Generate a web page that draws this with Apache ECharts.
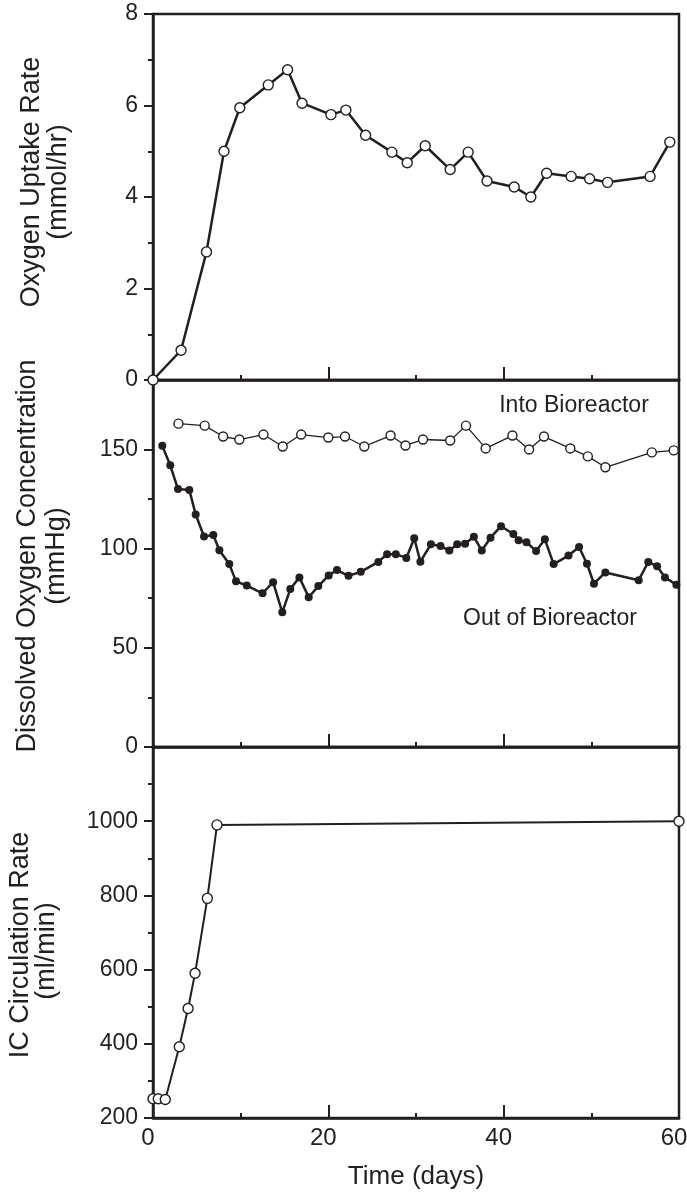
<!DOCTYPE html>
<html>
<head>
<meta charset="utf-8">
<script src="https://cdn.jsdelivr.net/npm/echarts@6/dist/echarts.min.js"></script>
<style>
  html, body { margin: 0; padding: 0; background: #fff; }
  #chart { width: 687px; height: 1196px; }
</style>
</head>
<body>
<div id="chart"></div>
<script>
// top panel: oxygen uptake rate (mmol/hr)
const uptakeDays = [0, 3.2, 6.1, 8.1, 9.9, 13.15, 15.35, 17.0, 20.3, 22.0, 24.25, 27.25, 29.0,
  31.05, 33.9, 35.95, 38.1, 41.2, 43.1, 44.9, 47.7, 49.8, 51.85, 56.7, 58.95];
const uptakeRate = [0, 0.65, 2.8, 5.0, 5.95, 6.45, 6.78, 6.05, 5.8, 5.9, 5.35, 4.98, 4.75,
  5.12, 4.6, 4.98, 4.35, 4.22, 4.0, 4.52, 4.45, 4.4, 4.32, 4.45, 5.2];

// middle panel: dissolved oxygen (mmHg)
const intoDays = [2.9, 5.9, 8.0, 9.85, 12.6, 14.8, 16.9, 20.0, 21.9, 24.1, 27.1, 28.8, 30.8,
  33.9, 35.7, 37.95, 41.0, 42.9, 44.6, 47.6, 49.6, 51.6, 56.9, 59.4];
const intoO2 = [163, 162, 156.5, 155, 157.5, 151.5, 157.5, 156, 156.5, 151.5, 157, 152, 155,
  154.5, 162, 150.5, 157, 150, 156.5, 150.5, 146.5, 141, 148.5, 149.5];

const outDays = [1.06, 1.97, 2.85, 4.14, 4.87, 5.82, 6.88, 7.57, 8.7, 9.47, 10.7, 12.5, 13.7,
  14.75, 15.66, 16.7, 17.76, 18.86, 20.04, 20.99, 22.3, 23.7, 25.7, 26.7, 27.7, 28.9, 29.8,
  30.5, 31.7, 32.8, 33.8, 34.7, 35.6, 36.6, 37.5, 38.5, 39.7, 41.1, 41.7, 42.6, 43.7, 44.7,
  45.7, 47.4, 48.6, 49.5, 50.3, 51.6, 55.4, 56.5, 57.5, 58.4, 59.7];
const outO2 = [151.8, 142, 130, 129.6, 117.2, 106.1, 106.9, 99.2, 92.2, 83.5, 81.4, 77.5, 83.1,
  67.9, 79.6, 85.5, 75.5, 81.1, 86.5, 89.2, 86.3, 88.3, 93.3, 97.2, 97.2, 95.3, 105.2,
  93.4, 102.2, 101.3, 99, 102.2, 102.5, 106, 99, 105.5, 111.3, 107.4, 104.2, 103.2, 98.8, 104.7,
  92.2, 96.5, 100.8, 92.4, 82.3, 88, 84.1, 93.3, 91.1, 85.5, 81.8];

// bottom panel: IC circulation rate (ml/min)
const circDays = [0, 0.6, 1.4, 3.0, 4.0, 4.8, 6.2, 7.3, 60];
const circRate = [252, 252, 250, 392, 495, 590, 792, 990, 1000];

const dayTicks = [0, 20, 40, 60];
const uptakeTicks = [0, 2, 4, 6, 8];
const o2Ticks = [0, 50, 100, 150];
const o2MinorTicks = [25, 75, 125];
const circTicks = [200, 400, 600, 800, 1000];

const INK = "#231f20";
const FONT = "'Liberation Sans', Arial, Helvetica, sans-serif";

const zip = (xs, ys) => xs.map((x, i) => [x, ys[i]]);

const grids = [
  { left: 153, right: 8, top: 14, height: 366 },
  { left: 153, right: 8, top: 380, height: 367 },
  { left: 153, right: 8, top: 747, height: 371 },
].map((g) => ({
  ...g,
  show: true,
  outerBoundsMode: "none",
  containLabel: false,
  borderColor: INK,
  borderWidth: 2.5,
  backgroundColor: "transparent",
}));

function xAxisFor(gridIndex) {
  const isBottom = gridIndex === 2;
  return {
    type: "value",
    gridIndex,
    min: 0,
    max: 60,
    interval: 20,
    axisLine: { lineStyle: { color: INK, width: 2.5 } },
    axisTick: { inside: true, length: 13, lineStyle: { color: INK, width: 2 } },
    minorTick: { show: true, splitNumber: 2, length: 5, lineStyle: { color: INK, width: 2 } },
    splitLine: { show: false },
    axisLabel: {
      show: isBottom,
      customValues: dayTicks,
      color: INK,
      fontSize: 24,
      fontFamily: FONT,
      margin: 8,
      padding: [0, 10, 0, 0],
      hideOverlap: false,
    },
    name: isBottom ? "Time (days)" : "",
    nameLocation: "middle",
    nameGap: 46,
    nameTextStyle: { color: INK, fontSize: 26, fontFamily: FONT },
  };
}

function yAxisBase(gridIndex, min, max) {
  return {
    type: "value",
    gridIndex,
    position: "left",
    min,
    max,
    axisLine: { show: true, lineStyle: { color: INK, width: 2.5 } },
    axisTick: { show: true, length: 9, lineStyle: { color: INK, width: 2 } },
    splitLine: { show: false },
    axisLabel: {
      color: INK,
      fontSize: 23,
      fontFamily: FONT,
      margin: 15,
      formatter: (v) => String(v),
    },
  };
}

const yAxes = [
  {
    ...yAxisBase(0, 0, 8),
    interval: 2,
    minorTick: { show: true, splitNumber: 2, length: 5, lineStyle: { color: INK, width: 2 } },
    axisLabel: { ...yAxisBase(0, 0, 8).axisLabel, customValues: uptakeTicks },
  },
  {
    ...yAxisBase(1, 0, 185),
    axisTick: { show: true, length: 9, customValues: o2Ticks, lineStyle: { color: INK, width: 2 } },
    axisLabel: { ...yAxisBase(1, 0, 185).axisLabel, customValues: o2Ticks },
  },
  {
    ...yAxisBase(1, 0, 185),
    axisLine: { show: false },
    axisTick: { show: true, length: 5, customValues: o2MinorTicks, lineStyle: { color: INK, width: 2 } },
    axisLabel: { show: false },
  },
  {
    ...yAxisBase(2, 200, 1200),
    interval: 200,
    minorTick: { show: true, splitNumber: 2, length: 5, lineStyle: { color: INK, width: 2 } },
    axisLabel: { ...yAxisBase(2, 200, 1200).axisLabel, customValues: circTicks },
  },
];

function openSeries(data, xAxisIndex, yAxisIndex, size, lineWidth) {
  return {
    type: "line",
    data,
    xAxisIndex,
    yAxisIndex,
    clip: false,
    symbol: "circle",
    symbolSize: size,
    lineStyle: { color: INK, width: lineWidth },
    itemStyle: { color: "#fff", borderColor: INK, borderWidth: 1.4 },
    emphasis: { disabled: true },
    z: 5,
  };
}

const series = [
  openSeries(zip(uptakeDays, uptakeRate), 0, 0, 10, 2.5),
  openSeries(zip(intoDays, intoO2), 1, 1, 9, 1.3),
  {
    type: "line",
    data: zip(outDays, outO2),
    xAxisIndex: 1,
    yAxisIndex: 1,
    clip: false,
    symbol: "circle",
    symbolSize: 8,
    lineStyle: { color: INK, width: 2.5 },
    itemStyle: { color: INK, borderColor: INK, borderWidth: 0 },
    emphasis: { disabled: true },
    z: 5,
  },
  openSeries(zip(circDays, circRate), 2, 3, 10, 2),
];

function vText(text, x, y) {
  return {
    type: "text",
    x,
    y,
    rotation: Math.PI / 2,
    style: { text, fill: INK, fontSize: 27, fontFamily: FONT, align: "center", verticalAlign: "middle" },
  };
}

function hText(text, x, y) {
  return {
    type: "text",
    x,
    y,
    style: { text, fill: INK, fontSize: 23, fontFamily: FONT, align: "center", verticalAlign: "middle" },
  };
}

const chart = echarts.init(document.getElementById("chart"), null, { renderer: "canvas" });
chart.setOption({
  animation: false,
  backgroundColor: "#fff",
  textStyle: { fontFamily: FONT },
  grid: grids,
  xAxis: [xAxisFor(0), xAxisFor(1), xAxisFor(2)],
  yAxis: yAxes,
  series,
  graphic: [
    vText("Oxygen Uptake Rate", 32, 182),
    vText("(mmol/hr)", 59, 182),
    vText("Dissolved Oxygen Concentration", 28, 556),
    vText("(mmHg)", 57, 556),
    vText("IC Circulation Rate", 21, 945),
    vText("(ml/min)", 47, 951),
    hText("Into Bioreactor", 574, 406),
    hText("Out of Bioreactor", 550, 619),
  ],
});
</script>
</body>
</html>
